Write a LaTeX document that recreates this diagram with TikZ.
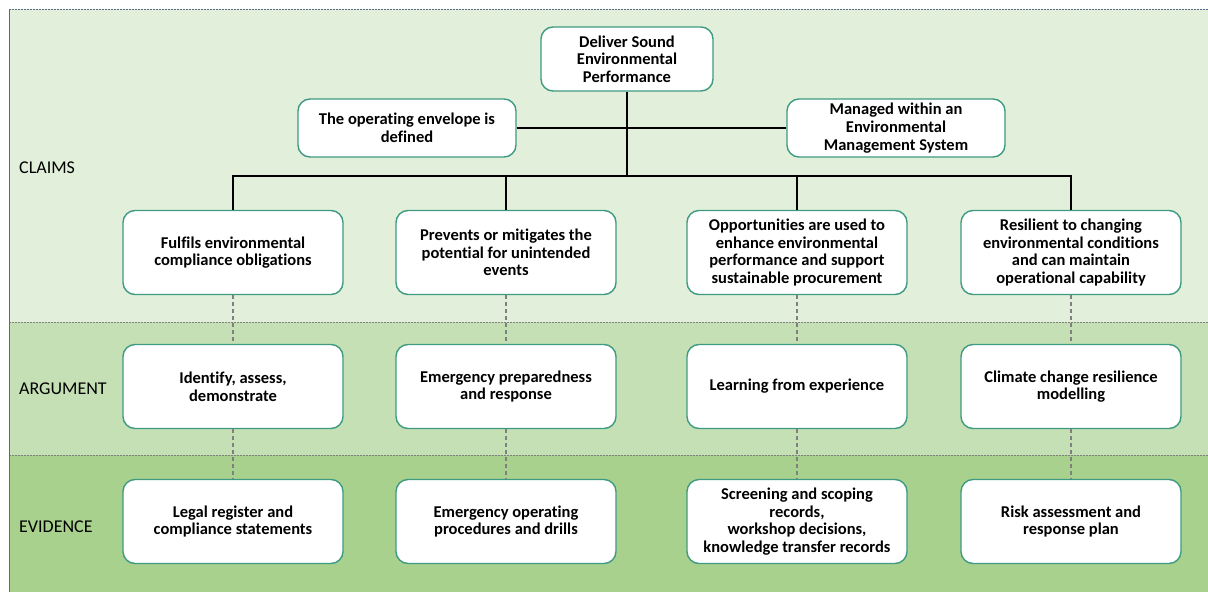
\documentclass[tikz,border=0pt]{standalone}
\usepackage{fontspec}
\setmainfont[Ligatures=NoCommon]{Carlito}
\definecolor{bandA}{HTML}{E2EFDA}
\definecolor{bandB}{HTML}{C5E0B4}
\definecolor{bandC}{HTML}{A9D18E}
\definecolor{boxc}{HTML}{3E9A80}
\definecolor{framec}{HTML}{5A6A85}
\definecolor{dashc}{HTML}{808080}
\tikzset{
  box/.style={draw=boxc, line width=1.4pt, fill=white, rounded corners=12pt, align=center,
    font=\bfseries\fontsize{16.5}{17.7}\selectfont, inner sep=0pt},
  rowbox/.style={box, minimum width=220pt, minimum height=84pt},
  linkdash/.style={draw=dashc, line width=1.2pt, dash pattern=on 4pt off 3pt},
  tree/.style={draw=black, line width=1.5pt},
  lab/.style={anchor=west, font=\fontsize{18}{20}\selectfont, inner sep=0pt},
}
\begin{document}
\begin{tikzpicture}[x=1pt,y=-1pt]
\useasboundingbox (0,0) rectangle (1208,592);
% bands
\fill[bandA] (9,9) rectangle (1208,322);
\fill[bandB] (9,322) rectangle (1208,455);
\fill[bandC] (9,455) rectangle (1208,592);
\draw[dashc, line width=0.6pt, dash pattern=on 2pt off 1pt] (9,322) -- (1208,322);
\draw[dashc, line width=0.6pt, dash pattern=on 2pt off 1pt] (9,455) -- (1208,455);
\draw[framec, line width=0.8pt, dash pattern=on 2pt off 1pt] (9,9) -- (1208,9);
\draw[framec, line width=1pt] (9,9) -- (9,592);
% labels
\node[lab] (lc) at (19,168) {CLAIMS};
\node[lab] (la) at (19,389) {ARGUMENT};
\node[lab] (le) at (19,527) {EVIDENCE};
% top nodes
\node[box, minimum width=172pt, minimum height=64pt] (top) at (627,59) {Deliver Sound\\Environmental\\Performance};
\node[box, minimum width=218pt, minimum height=58pt] (ml) at (407,128) {The operating envelope is\\defined};
\node[box, minimum width=218pt, minimum height=58pt] (mr) at (896,128) {Managed within an\\Environmental\\Management System};
% claims
\node[rowbox] (c1) at (233,252.5) {Fulfils environmental\\compliance obligations};
\node[rowbox] (c2) at (506,252.5) {Prevents or mitigates the\\potential for unintended\\events};
\node[rowbox] (c3) at (797,252.5) {Opportunities are used to\\enhance environmental\\performance and support\\sustainable procurement};
\node[rowbox] (c4) at (1071,252.5) {Resilient to changing\\environmental conditions\\and can maintain\\operational capability};
% argument
\node[rowbox] (a1) at (233,386.5) {Identify, assess,\\demonstrate};
\node[rowbox] (a2) at (506,386.5) {Emergency preparedness\\and response};
\node[rowbox] (a3) at (797,386.5) {Learning from experience};
\node[rowbox] (a4) at (1071,386.5) {Climate change resilience\\modelling};
% evidence
\node[rowbox] (e1) at (233,521.5) {Legal register and\\compliance statements};
\node[rowbox] (e2) at (506,521.5) {Emergency operating\\procedures and drills};
\node[rowbox] (e3) at (797,521.5) {Screening and scoping\\records,\\workshop decisions,\\knowledge transfer records};
\node[rowbox] (e4) at (1071,521.5) {Risk assessment and\\response plan};
% tree connectors
\coordinate (bus) at (627,176);
\draw[tree] (top.south) -- (bus);
\draw[tree] (ml.east) -- (mr.west);
\draw[tree] (c1.north) |- (bus) -| (c4.north);
\draw[tree] (c2.north) -- (c2.north |- bus);
\draw[tree] (c3.north) -- (c3.north |- bus);
% dashed links
\foreach \i in {1,2,3,4}{
  \draw[linkdash] (c\i.south) -- (a\i.north);
  \draw[linkdash] (a\i.south) -- (e\i.north);
}
\end{tikzpicture}
\end{document}
